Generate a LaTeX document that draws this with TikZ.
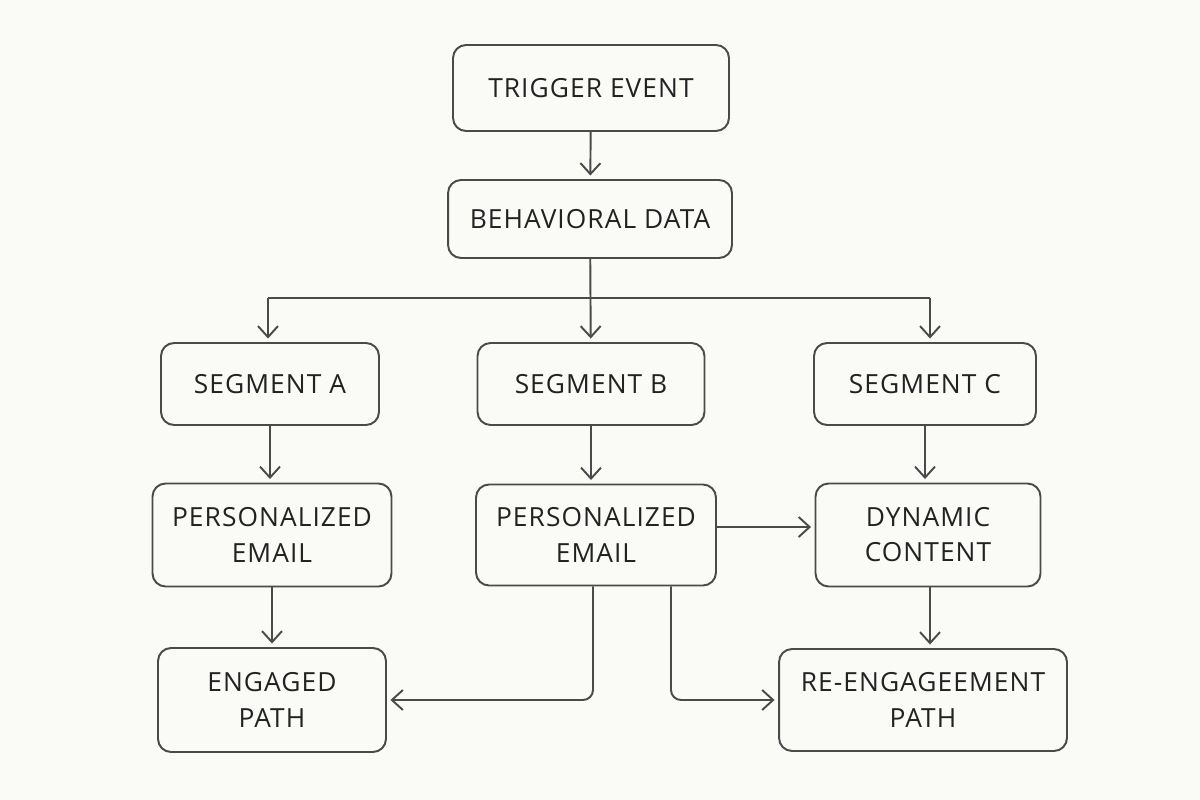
\documentclass[tikz,border=0pt]{standalone}
\usepackage{fontspec}
\setsansfont{Open Sans}[LetterSpace=4]
\usetikzlibrary{arrows.meta}
\begin{document}
\begin{tikzpicture}[x=0.02cm,y=-0.02cm,font=\sffamily\fontsize{15}{20}\selectfont,
  flowbox/.style={draw=inkgray,line width=1.1pt,rounded corners=0.26cm,align=center,text=inkblack,inner sep=0pt},
  flowarrow/.style={draw=inkgray,line width=1.1pt,-{Straight Barb[length=2.2mm,width=4mm]},shorten >=2pt}]
\definecolor{inkgray}{HTML}{4A4A4A}
\definecolor{inkblack}{HTML}{222222}
\definecolor{paper}{HTML}{FAFAF7}
\fill[paper] (0,0) rectangle (1200,800);
\node[flowbox,minimum width=5.52cm,minimum height=1.72cm] (trigger) at (591,88) {TRIGGER EVENT};
\node[flowbox,minimum width=5.68cm,minimum height=1.56cm] (behavior) at (590,219) {BEHAVIORAL DATA};
\node[flowbox,minimum width=4.36cm,minimum height=1.64cm] (segA) at (270,384) {SEGMENT A};
\node[flowbox,minimum width=4.54cm,minimum height=1.64cm] (segB) at (591,384) {SEGMENT B};
\node[flowbox,minimum width=4.44cm,minimum height=1.64cm] (segC) at (925,384) {SEGMENT C};
\node[flowbox,minimum width=4.78cm,minimum height=2.06cm] (emailA) at (272,535) {PERSONALIZED\\EMAIL};
\node[flowbox,minimum width=4.8cm,minimum height=2.02cm] (emailB) at (596,535) {PERSONALIZED\\EMAIL};
\node[flowbox,minimum width=4.5cm,minimum height=2.06cm] (dynamic) at (928,535) {DYNAMIC\\CONTENT};
\node[flowbox,minimum width=4.56cm,minimum height=2.08cm] (engaged) at (272,700) {ENGAGED\\PATH};
\node[flowbox,minimum width=5.76cm,minimum height=2.04cm] (reengage) at (923,700) {RE-ENGAGEEMENT\\PATH};
% bus from behavioral data
\coordinate (busA) at (268,298);
\coordinate (busC) at (930,298);
\draw[draw=inkgray,line width=1.1pt] (busA) -- (busC);
\draw[flowarrow] (trigger) -- (behavior);
\draw[flowarrow] (behavior) -- (segB);
\draw[flowarrow] (busA) -- (busA |- segA.north);
\draw[flowarrow] (busC) -- (busC |- segC.north);
\draw[flowarrow] (segA.south) -- (segA.south |- emailA.north);
\draw[flowarrow] (segB.south) -- (segB.south |- emailB.north);
\draw[flowarrow] (segC.south) -- (segC.south |- dynamic.north);
\draw[flowarrow] (emailA.south) -- (emailA.south |- engaged.north);
\draw[flowarrow] ([xshift=0.04cm]dynamic.south) -- ([xshift=0.04cm]dynamic.south |- reengage.north);
\draw[flowarrow] ([yshift=0.16cm]emailB.east) -- ([yshift=0.16cm]dynamic.west);
\draw[flowarrow,rounded corners=0.2cm] ([xshift=-0.06cm]emailB.south) |- (engaged.east);
\draw[flowarrow,rounded corners=0.2cm] ([xshift=1.5cm]emailB.south) |- (reengage.west);
\end{tikzpicture}
\end{document}
